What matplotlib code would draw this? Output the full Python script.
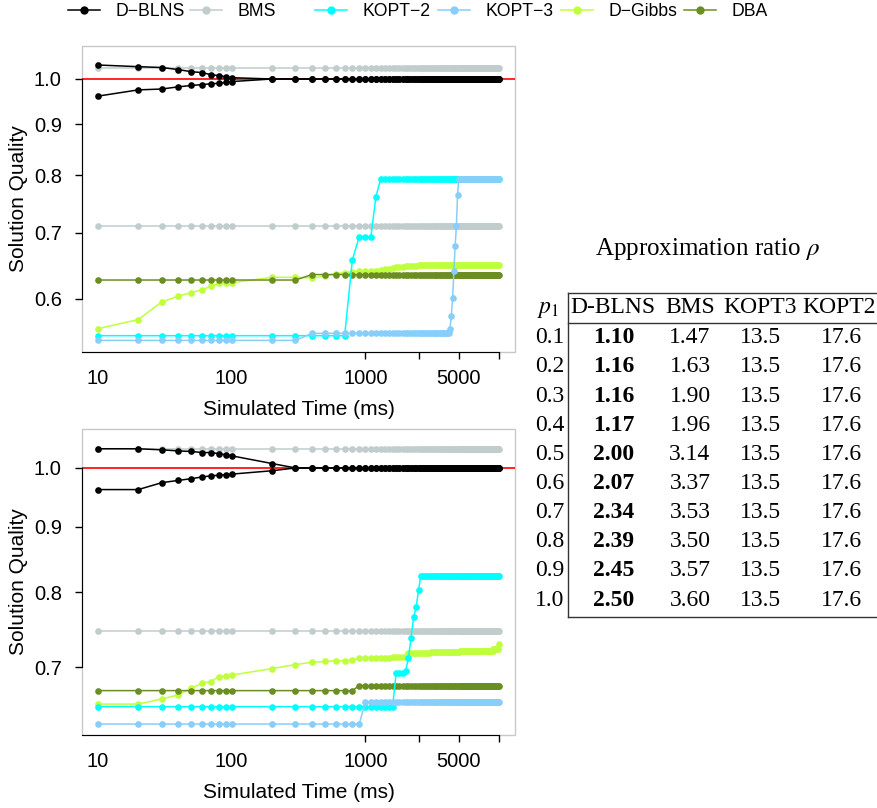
"""Solution quality over simulated time for two p1 settings, plus the approximation ratio table."""

import matplotlib

matplotlib.use("Agg")

import matplotlib.pyplot as plt
from matplotlib.lines import Line2D
from matplotlib.patches import Rectangle
from matplotlib.ticker import NullLocator

plt.rcParams["font.family"] = ["Liberation Sans", "DejaVu Sans"]
plt.rcParams["mathtext.fontset"] = "stix"

FIG_W, FIG_H = 878, 808

# sample times (ms): every 10 ms up to 100, then every 100 ms up to 10 s
TIME_MS = [10, 20, 30, 40, 50, 60, 70, 80, 90, 100] + list(range(200, 10001, 100))

# upper panel
TOP_DBLNS_UPPER = [1.033, 1.029, 1.027, 1.022, 1.017, 1.015, 1.010, 1.008, 1.005, 1.003] + [1.000] * 99
TOP_DBLNS_LOWER = [0.961, 0.975, 0.977, 0.982, 0.985, 0.987, 0.989, 0.990, 0.992, 0.994] + [1.000] * 99
TOP_BMS_UPPER = [1.027] * 109
TOP_BMS_LOWER = [0.710] * 109
TOP_KOPT2 = [0.551] * 16 + [0.657, 0.693, 0.693, 0.693, 0.761] + [0.792] * 88
TOP_KOPT3 = [0.545] * 12 + [0.554] * 39 + [0.560, 0.577, 0.602, 0.640, 0.679, 0.710, 0.764] + [0.792] * 51
TOP_DGIBBS = (
    [0.560, 0.572, 0.596, 0.604, 0.609, 0.613, 0.618, 0.622, 0.622, 0.623]
    + [0.631, 0.631, 0.630, 0.633, 0.636, 0.638, 0.639, 0.640, 0.640, 0.641,
       0.641, 0.642, 0.643, 0.644, 0.645, 0.646, 0.647, 0.647, 0.648]
    + [0.648] * 4 + [0.649] * 5 + [0.650] * 71
)
TOP_DBA = [0.627] * 12 + [0.635] * 97

# lower panel
BOT_DBLNS_UPPER = [1.035, 1.035, 1.033, 1.031, 1.030, 1.028, 1.028, 1.026, 1.024, 1.022, 1.008] + [1.000] * 98
BOT_DBLNS_LOWER = [0.962, 0.962, 0.974, 0.978, 0.981, 0.984, 0.986, 0.987, 0.988, 0.989, 0.995] + [1.000] * 98
BOT_BMS_UPPER = [1.034] * 109
BOT_BMS_LOWER = [0.746] * 109
BOT_KOPT2 = [0.652] * 25 + [0.692, 0.692, 0.693, 0.695, 0.711, 0.738, 0.765, 0.779, 0.803] + [0.824] * 75
BOT_KOPT3 = [0.632] * 18 + [0.657] * 91
BOT_DGIBBS = (
    [0.655, 0.655, 0.661, 0.666, 0.674, 0.680, 0.682, 0.688, 0.689, 0.690]
    + [0.698, 0.703, 0.706, 0.707, 0.708, 0.708, 0.709, 0.711]
    + [0.712] * 6 + [0.713] * 5 + [0.718] * 10 + [0.719] * 20
    + [0.720] * 20 + [0.721] * 20 + [0.723] * 9 + [0.729]
)
BOT_DBA = [0.671] * 17 + [0.677] * 92

X_TICKS = [10, 100, 1000, 2500, 5000, 10000]
X_TICK_LABELS = ["10", "100", "1000", "", "5000", ""]

# approximation ratio table
P1_VALUES = ["0.1", "0.2", "0.3", "0.4", "0.5", "0.6", "0.7", "0.8", "0.9", "1.0"]
TABLE_HEADERS = ["D-BLNS", "BMS", "KOPT3", "KOPT2"]
RATIO_DBLNS = ["1.10", "1.16", "1.16", "1.17", "2.00", "2.07", "2.34", "2.39", "2.45", "2.50"]
RATIO_BMS = ["1.47", "1.63", "1.90", "1.96", "3.14", "3.37", "3.53", "3.50", "3.57", "3.60"]
RATIO_KOPT3 = ["13.5"] * 10
RATIO_KOPT2 = ["17.6"] * 10

COLORS = {
    "D-BLNS": "black",
    "BMS": "#C1CDCD",
    "KOPT-2": "#00FFFF",
    "KOPT-3": "#87CEFA",
    "D-Gibbs": "#C0FF3E",
    "DBA": "#6B8E23",
}
LEGEND_LABELS = ["D\u2212BLNS", "BMS", "KOPT\u22122", "KOPT\u22123", "D\u2212Gibbs", "DBA"]
LEGEND_X_PX = [68, 190, 315, 438, 561, 684]


def fx(px):
    return px / FIG_W


def fy(py):
    return 1 - py / FIG_H


def draw_panel(ax, series, y_ticks, ylim):
    ax.axhline(1.0, color="red", linewidth=1.2, zorder=1)
    for name, values in series:
        ax.plot(
            TIME_MS,
            values,
            color=COLORS[name],
            marker="o",
            markersize=4.8,
            markeredgewidth=0,
            linewidth=1.1,
            zorder=2,
        )

    ax.set_xscale("log")
    ax.set_yscale("log")
    ax.set_xlim(10 ** 0.88, 10 ** 4.12)
    ax.set_ylim(*ylim)
    ax.set_xticks(X_TICKS, labels=X_TICK_LABELS)
    ax.set_yticks(y_ticks, labels=[f"{tick:.1f}" for tick in y_ticks])
    ax.xaxis.set_minor_locator(NullLocator())
    ax.yaxis.set_minor_locator(NullLocator())
    for tick in ax.xaxis.get_major_ticks()[:2]:
        tick.tick1line.set_visible(False)

    ax.tick_params(axis="both", labelsize=14.5, length=5, width=1, direction="out")
    ax.tick_params(axis="x", pad=7.5)
    ax.tick_params(axis="y", pad=9.5)

    for side in ("top", "right"):
        ax.spines[side].set_visible(False)
    ax.spines["left"].set_bounds(y_ticks[0], y_ticks[-1])
    ax.spines["bottom"].set_bounds(ax.get_xlim()[0], 10000)
    ax.add_patch(
        Rectangle((0, 0), 1, 1, transform=ax.transAxes, fill=False,
                  edgecolor="#C8C8C8", linewidth=1, clip_on=False, zorder=0)
    )

    ax.set_xlabel("Simulated Time (ms)", fontsize=15)
    ax.set_ylabel("Solution Quality", fontsize=15)
    ax.xaxis.set_label_coords(0.5, -0.158)
    ax.yaxis.set_label_coords(-0.125, 0.5)


def draw_table(fig):
    serif = ["Liberation Serif", "DejaVu Serif"]
    fig.text(fx(707), fy(255), r"Approximation ratio $\rho$", fontsize=18,
             family=serif, ha="center", va="baseline")

    line_kw = dict(color="#333333", linewidth=1.0, transform=fig.transFigure)
    fig.add_artist(Line2D([fx(568), fx(568)], [fy(293), fy(617)], **line_kw))
    for y_px in (293, 323, 617):
        fig.add_artist(Line2D([fx(568), fx(878)], [fy(y_px), fy(y_px)], **line_kw))

    header_x = [613, 690, 760, 839]
    value_x = [614, 690, 760.5, 841.5]
    fig.text(fx(548), fy(313.5), r"$p_1$", fontsize=17, ha="center", va="baseline")
    for x_px, header in zip(header_x, TABLE_HEADERS):
        fig.text(fx(x_px), fy(313.5), header, fontsize=17, family=serif,
                 ha="center", va="baseline")

    columns = [RATIO_DBLNS, RATIO_BMS, RATIO_KOPT3, RATIO_KOPT2]
    for row, p1 in enumerate(P1_VALUES):
        y_px = 343.3 + 29.14 * row
        fig.text(fx(564), fy(y_px), p1, fontsize=17, family=serif,
                 ha="right", va="baseline")
        for col, (x_px, values) in enumerate(zip(value_x, columns)):
            fig.text(fx(x_px), fy(y_px), values[row], fontsize=17, family=serif,
                     fontweight="bold" if col == 0 else "normal",
                     ha="center", va="baseline")


def draw_legend(fig):
    for label, name, x_px in zip(LEGEND_LABELS, COLORS, LEGEND_X_PX):
        handle = Line2D([], [], color=COLORS[name], marker="o", markersize=6,
                        markeredgewidth=0, linewidth=1.1)
        fig.legend(
            handles=[handle],
            labels=[label],
            loc="center left",
            bbox_to_anchor=(fx(x_px), fy(12)),
            frameon=False,
            fontsize=12.7,
            handlelength=1.82,
            handletextpad=0.9,
            borderpad=0,
            borderaxespad=0,
        )


def main():
    fig = plt.figure(figsize=(FIG_W / 100, FIG_H / 100), dpi=100)

    ax_top = fig.add_axes([fx(82), fy(352), 433 / FIG_W, 306 / FIG_H])
    ax_bot = fig.add_axes([fx(82), fy(735), 433 / FIG_W, 306 / FIG_H])

    top_series = [
        ("BMS", TOP_BMS_UPPER), ("BMS", TOP_BMS_LOWER),
        ("D-Gibbs", TOP_DGIBBS), ("DBA", TOP_DBA),
        ("KOPT-2", TOP_KOPT2), ("KOPT-3", TOP_KOPT3),
        ("D-BLNS", TOP_DBLNS_UPPER), ("D-BLNS", TOP_DBLNS_LOWER),
    ]
    bot_series = [
        ("BMS", BOT_BMS_UPPER), ("BMS", BOT_BMS_LOWER),
        ("D-Gibbs", BOT_DGIBBS), ("DBA", BOT_DBA),
        ("KOPT-2", BOT_KOPT2), ("KOPT-3", BOT_KOPT3),
        ("D-BLNS", BOT_DBLNS_UPPER), ("D-BLNS", BOT_DBLNS_LOWER),
    ]
    draw_panel(ax_top, top_series, [0.6, 0.7, 0.8, 0.9, 1.0], (0.5305, 1.0796))
    draw_panel(ax_bot, bot_series, [0.7, 0.8, 0.9, 1.0], (0.6197, 1.0723))

    draw_legend(fig)
    draw_table(fig)

    fig.savefig("out.png", dpi=100)
    plt.close(fig)


if __name__ == "__main__":
    main()
